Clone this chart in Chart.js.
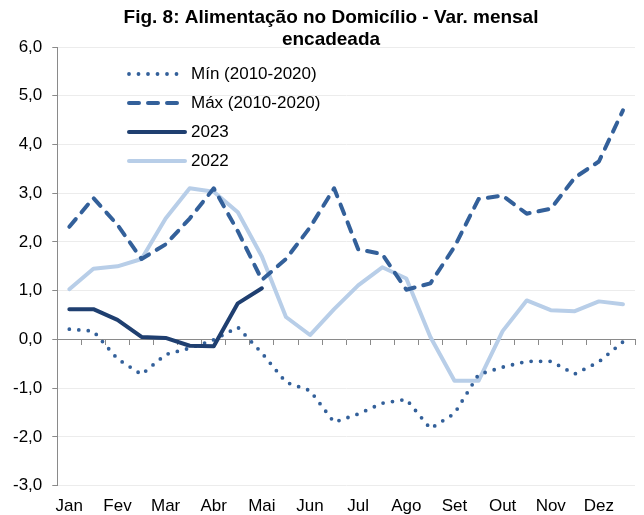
<!DOCTYPE html>
<html>
<head>
<meta charset="utf-8">
<script src="https://cdn.jsdelivr.net/npm/chart.js@4.4.0/dist/chart.umd.min.js"></script>
<style>
  html, body { margin: 0; padding: 0; background: #fff; }
</style>
</head>
<body>
<canvas id="chart" width="644" height="515"></canvas>
<script>
// Semi-monthly points: two per month, only the first one is labelled
const months = ['Jan', '', 'Fev', '', 'Mar', '', 'Abr', '', 'Mai', '', 'Jun', '',
                'Jul', '', 'Ago', '', 'Set', '', 'Out', '', 'Nov', '', 'Dez', '']

const minValues = [0.21, 0.17, -0.40, -0.72, -0.31, -0.18, -0.01, 0.25, -0.28, -0.88, -1.05, -1.70,
                   -1.53, -1.31, -1.23, -1.83, -1.52, -0.72, -0.57, -0.45, -0.45, -0.71, -0.46, -0.05]
const maxValues = [2.31, 2.90, 2.35, 1.65, 1.95, 2.48, 3.10, 2.22, 1.22, 1.65, 2.30, 3.10,
                   1.85, 1.75, 1.02, 1.15, 1.90, 2.88, 2.95, 2.58, 2.68, 3.32, 3.65, 4.70]
const values2023 = [0.62, 0.62, 0.40, 0.05, 0.03, -0.13, -0.14, 0.74, 1.05]
const values2022 = [1.03, 1.45, 1.50, 1.65, 2.48, 3.10, 3.03, 2.61, 1.70, 0.46, 0.09, 0.62,
                    1.11, 1.48, 1.25, 0.05, -0.85, -0.85, 0.17, 0.80, 0.60, 0.58, 0.78, 0.72]

const yMin = -3
const yMax = 6
const yStep = 1

const titleLines = ['Fig. 8: Alimentação no Domicílio - Var. mensal', 'encadeada']

const FONT = '"Liberation Sans", Arial, sans-serif'
const axisGrey = '#8a8a8a'

// Title drawn by hand so it can sit a bit right of the canvas centre
const titlePlugin = {
  id: 'titleLines',
  afterDraw(chart) {
    const ctx = chart.ctx
    ctx.save()
    ctx.fillStyle = '#000'
    ctx.font = 'bold 19px ' + FONT
    ctx.textAlign = 'center'
    ctx.textBaseline = 'middle'
    titleLines.forEach((line, i) => {
      ctx.fillText(line, 331, 18 + i * 22)
    })
    ctx.restore()
  }
}

// Legend sits inside the plot area, top left
const insideLegend = {
  id: 'insideLegend',
  afterDatasetsDraw(chart) {
    const ctx = chart.ctx
    const x0 = 129, x1 = 185
    chart.data.datasets.forEach((ds, i) => {
      const y = 74 + i * 29
      ctx.save()
      ctx.strokeStyle = ds.borderColor
      ctx.lineWidth = ds.borderWidth
      ctx.lineCap = 'round'
      ctx.setLineDash(ds.borderDash || [])
      ctx.beginPath()
      ctx.moveTo(x0, y)
      ctx.lineTo(x1, y)
      ctx.stroke()
      ctx.setLineDash([])
      ctx.fillStyle = '#000'
      ctx.font = '17px ' + FONT
      ctx.textBaseline = 'middle'
      ctx.fillText(ds.label, x1 + 6, y)
      ctx.restore()
    })
  }
}

const ctx = document.getElementById('chart').getContext('2d')
new Chart(ctx, {
  type: 'line',
  data: {
    labels: months,
    datasets: [
      {
        label: 'Mín (2010-2020)',
        data: minValues,
        borderColor: '#33609a',
        borderWidth: 3.8,
        borderDash: [0, 9.5],
        borderCapStyle: 'round',
        borderJoinStyle: 'round',
        pointRadius: 0,
        order: 2
      },
      {
        label: 'Máx (2010-2020)',
        data: maxValues,
        borderColor: '#33609a',
        borderWidth: 4,
        borderDash: [10, 9],
        borderCapStyle: 'round',
        borderJoinStyle: 'round',
        pointRadius: 0,
        order: 1
      },
      {
        label: '2023',
        data: values2023,
        borderColor: '#1f3f70',
        borderWidth: 4,
        borderCapStyle: 'round',
        borderJoinStyle: 'round',
        pointRadius: 0,
        order: 0
      },
      {
        label: '2022',
        data: values2022,
        borderColor: '#b8cee8',
        borderWidth: 4,
        borderCapStyle: 'round',
        borderJoinStyle: 'round',
        pointRadius: 0,
        order: 3
      }
    ]
  },
  options: {
    responsive: false,
    devicePixelRatio: 1,
    animation: false,
    layout: {
      padding: { top: 47, left: 3, right: 9, bottom: -13 }
    },
    plugins: {
      legend: { display: false },
      title: { display: false },
      tooltip: { enabled: false }
    },
    scales: {
      x: {
        offset: true,
        grid: { display: false, drawTicks: false },
        border: { display: false },
        ticks: {
          autoSkip: false,
          maxRotation: 0,
          padding: 11,
          color: '#000',
          font: { family: FONT, size: 17 }
        }
      },
      // zero line with tick marks between the half-months
      xZero: {
        type: 'category',
        axis: 'x',
        position: { y: 0 },
        offset: true,
        grid: {
          drawOnChartArea: false,
          offset: true,
          tickLength: 5,
          color: axisGrey,
          tickColor: axisGrey
        },
        border: { color: axisGrey, width: 1 },
        ticks: { display: false }
      },
      y: {
        min: yMin,
        max: yMax,
        ticks: {
          stepSize: yStep,
          padding: 10,
          color: '#000',
          font: { family: FONT, size: 17 },
          callback: function(value) {
            return value.toFixed(1).replace('.', ',')
          }
        },
        grid: {
          color: '#ececec',
          tickColor: axisGrey,
          tickLength: 5
        },
        border: { color: axisGrey, width: 1 }
      }
    }
  },
  plugins: [titlePlugin, insideLegend]
})
</script>
</body>
</html>
